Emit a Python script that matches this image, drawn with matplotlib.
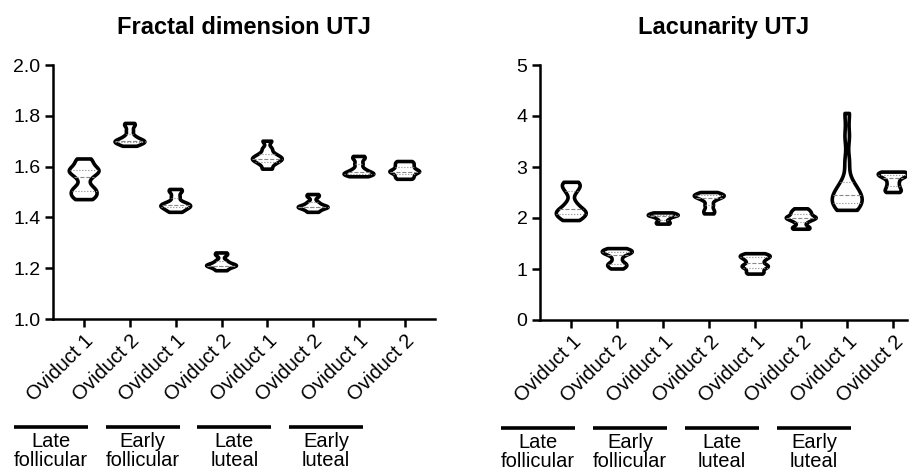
import numpy as np
import matplotlib
matplotlib.use("Agg")
import matplotlib.pyplot as plt
from matplotlib.transforms import blended_transform_factory

plt.rcParams['font.family'] = ['Liberation Sans', 'DejaVu Sans']

tick_labels = ["Oviduct 1", "Oviduct 2"] * 4
groups = ["Late\nfollicular", "Early\nfollicular", "Late\nluteal", "Early\nluteal"]

# fractal dimension per oviduct
fractal = [
    [1.47, 1.48, 1.49, 1.50, 1.51, 1.52, 1.55, 1.57, 1.58, 1.58, 1.59, 1.60, 1.62, 1.63],
    [1.68, 1.69, 1.69, 1.70, 1.70, 1.70, 1.71, 1.72, 1.74, 1.76, 1.77],
    [1.42, 1.43, 1.44, 1.44, 1.45, 1.45, 1.46, 1.48, 1.50, 1.51],
    [1.19, 1.20, 1.21, 1.21, 1.21, 1.22, 1.23, 1.25, 1.26],
    [1.59, 1.61, 1.62, 1.63, 1.63, 1.64, 1.65, 1.67, 1.70],
    [1.42, 1.43, 1.44, 1.44, 1.44, 1.45, 1.46, 1.48, 1.49],
    [1.56, 1.57, 1.57, 1.57, 1.58, 1.59, 1.61, 1.63, 1.64],
    [1.55, 1.56, 1.57, 1.58, 1.58, 1.59, 1.60, 1.61, 1.62],
]

lacunarity = [
    [1.95, 2.00, 2.05, 2.10, 2.10, 2.15, 2.20, 2.30, 2.50, 2.60, 2.65, 2.70],
    [1.00, 1.05, 1.08, 1.12, 1.20, 1.28, 1.30, 1.33, 1.35, 1.37, 1.40],
    [1.88, 1.92, 1.98, 2.02, 2.05, 2.05, 2.08, 2.10],
    [2.08, 2.15, 2.25, 2.35, 2.40, 2.42, 2.45, 2.45, 2.50],
    [0.90, 0.95, 1.02, 1.05, 1.08, 1.15, 1.20, 1.25, 1.25, 1.30],
    [1.78, 1.82, 1.92, 1.98, 2.00, 2.02, 2.08, 2.12, 2.18],
    [2.15, 2.20, 2.25, 2.30, 2.35, 2.40, 2.45, 2.50, 2.60, 2.70, 3.10, 3.60, 4.05],
    [2.50, 2.55, 2.62, 2.70, 2.78, 2.82, 2.85, 2.88, 2.90],
]


def draw_panel(ax, data, title, ylim, yticks, yfmt):
    pos = np.arange(len(data))
    parts = ax.violinplot(data, positions=pos, widths=0.65, showextrema=False,
                          bw_method=0.3, points=200)
    for body, d, p in zip(parts['bodies'], data, pos):
        body.set_facecolor('none')
        body.set_edgecolor('black')
        body.set_linewidth(2.6)
        body.set_alpha(1)
        v = body.get_paths()[0].vertices
        right = v[v[:, 0] > p]
        order = np.argsort(right[:, 1])
        ys, xs = right[order, 1], right[order, 0] - p
        q1, med, q3 = np.percentile(d, [25, 50, 75])
        for q, ls in [(q1, ':'), (med, '--'), (q3, ':')]:
            hw = np.interp(q, ys, xs)
            ax.plot([p - hw, p + hw], [q, q], color='#888888', lw=0.8, ls=ls)

    ax.set_title(title, fontsize=17, fontweight='bold', pad=22)
    ax.set_ylim(*ylim)
    ax.set_yticks(yticks)
    ax.set_yticklabels([yfmt.format(t) for t in yticks], fontsize=14)
    ax.set_xticks(pos)
    ax.set_xticklabels(tick_labels, rotation=45, ha='right', rotation_mode='anchor',
                       fontsize=14.5)
    for s in ['top', 'right']:
        ax.spines[s].set_visible(False)
    for s in ['left', 'bottom']:
        ax.spines[s].set_linewidth(1.8)
    ax.tick_params(width=1.8, length=6, pad=3)

    trans = blended_transform_factory(ax.transData, ax.transAxes)
    for k, g in enumerate(groups):
        c = 2 * k - 0.72
        ax.plot([c - 0.81, c + 0.81], [-0.425, -0.425], color='black', lw=2.6,
                transform=trans, clip_on=False, solid_capstyle='butt')
        ax.text(c, -0.445, g, transform=trans, ha='center', va='top', fontsize=14.5,
                linespacing=0.98)


fig = plt.figure(figsize=(9.09, 4.70), dpi=100)
ax1 = fig.add_axes([53 / 909, 151 / 470, 382 / 909, 254 / 470])
ax2 = fig.add_axes([540 / 909, 150 / 470, 367 / 909, 255 / 470])

draw_panel(ax1, fractal, "Fractal dimension UTJ", (1.0, 2.0),
           [1.0, 1.2, 1.4, 1.6, 1.8, 2.0], "{:.1f}")
ax1.set_xlim(-0.68, 7.66)
draw_panel(ax2, lacunarity, "Lacunarity UTJ", (0, 5), [0, 1, 2, 3, 4, 5], "{:.0f}")
ax2.set_xlim(-0.68, 7.3)

fig.savefig("out.png", dpi=100)
